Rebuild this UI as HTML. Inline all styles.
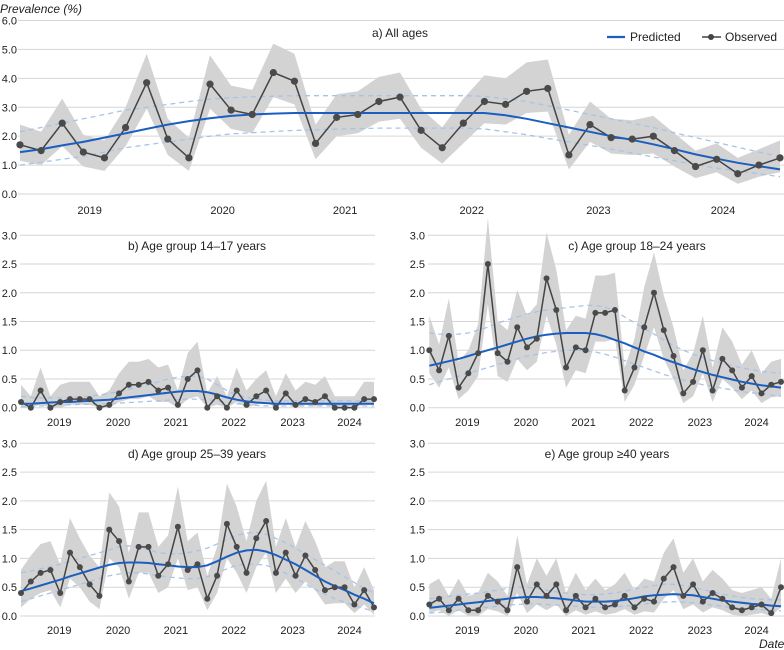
<!DOCTYPE html>
<html><head><meta charset="utf-8"><style>
html,body{margin:0;padding:0;background:#fff;}
svg{display:block;font-family:"Liberation Sans",sans-serif;}
</style></head><body>
<svg id="chart" width="784" height="650" viewBox="0 0 784 650">
<text x="0" y="13" font-size="12" font-style="italic" fill="#222">Prevalence (%)</text>
<text x="759" y="648" font-size="12" font-style="italic" fill="#222">Date</text>
<g>
<line x1="607" y1="37" x2="625" y2="37" stroke="#1a5fc0" stroke-width="2.2"/>
<text x="630" y="41" font-size="12" fill="#222">Predicted</text>
<line x1="702" y1="37" x2="721" y2="37" stroke="#444" stroke-width="1.5"/>
<circle cx="711" cy="37" r="3" fill="#444"/>
<text x="725" y="41" font-size="12" fill="#222">Observed</text>
</g>
</svg>
<script>
// Panel a: All ages
const aObs=[1.7,1.5,2.45,1.45,1.25,2.3,3.85,1.9,1.25,3.8,2.9,2.75,4.2,3.9,1.75,2.65,2.75,3.2,3.35,2.2,1.6,2.45,3.2,3.1,3.55,3.65,1.35,2.4,1.95,1.9,2.0,1.5,0.95,1.2,0.7,1.0,1.25];
const aBandHi=[2.4,2.15,3.3,2.05,1.85,3.0,4.85,2.6,1.95,4.8,3.75,3.6,5.2,4.85,2.4,3.45,3.55,4.05,4.2,2.95,2.3,3.3,4.1,4.0,4.55,4.65,2.05,3.2,2.6,2.55,2.7,2.1,1.5,1.75,1.25,1.55,1.85];
const aBandLo=[1.15,1.0,1.65,0.95,0.8,1.65,2.95,1.35,0.8,2.95,2.25,2.1,3.35,3.1,1.2,2.0,2.1,2.5,2.6,1.6,1.05,1.75,2.45,2.4,2.8,2.85,0.85,1.8,1.4,1.35,1.4,0.95,0.55,0.75,0.35,0.6,0.75];
const aPred=[1.45,1.55,1.68,1.8,1.95,2.1,2.25,2.4,2.52,2.62,2.7,2.75,2.78,2.8,2.8,2.8,2.8,2.8,2.8,2.8,2.8,2.8,2.8,2.72,2.6,2.45,2.3,2.15,2.0,1.87,1.72,1.55,1.37,1.22,1.08,0.96,0.85];
const aPredHi=[2.15,2.3,2.45,2.6,2.75,2.9,3.0,3.1,3.2,3.28,3.33,3.36,3.38,3.4,3.4,3.4,3.4,3.4,3.4,3.4,3.4,3.4,3.38,3.3,3.2,3.05,2.9,2.75,2.6,2.45,2.3,2.12,1.95,1.78,1.62,1.45,1.3];
const aPredLo=[1.0,1.1,1.2,1.3,1.45,1.6,1.7,1.8,1.9,2.0,2.08,2.12,2.16,2.2,2.22,2.24,2.26,2.28,2.28,2.28,2.28,2.28,2.25,2.15,2.05,1.92,1.8,1.68,1.55,1.42,1.28,1.15,1.02,0.9,0.8,0.7,0.6];
// Panel b: 14-17
const bObs=[0.1,0,0.3,0,0.1,0.15,0.15,0.15,0,0.05,0.25,0.4,0.4,0.45,0.3,0.35,0.05,0.5,0.65,0,0.2,0,0.3,0.05,0.2,0.3,0,0.25,0.05,0.15,0.1,0.2,0,0,0,0.15,0.15];
const bBandHi=[0.4,0.2,0.7,0.2,0.4,0.45,0.45,0.45,0.2,0.3,0.6,0.8,0.8,0.85,0.7,0.75,0.3,0.95,1.15,0.25,0.55,0.2,0.7,0.3,0.5,0.65,0.2,0.6,0.3,0.45,0.4,0.55,0.2,0.2,0.2,0.45,0.45];
const bBandLo=[0,0,0.05,0,0,0.05,0.05,0.05,0,0,0.1,0.15,0.15,0.2,0.1,0.1,0,0.15,0.2,0,0.05,0,0.1,0,0.05,0.1,0,0.1,0,0.05,0.02,0.05,0,0,0,0.05,0.05];
const bPred=[0.07,0.07,0.08,0.09,0.1,0.1,0.11,0.12,0.13,0.14,0.16,0.18,0.2,0.22,0.24,0.26,0.28,0.29,0.29,0.27,0.23,0.18,0.14,0.11,0.09,0.08,0.07,0.07,0.07,0.07,0.07,0.07,0.07,0.07,0.07,0.07,0.07];
const bPredHi=[0.2,0.18,0.17,0.17,0.17,0.18,0.19,0.2,0.22,0.25,0.28,0.32,0.36,0.4,0.45,0.5,0.53,0.55,0.55,0.5,0.4,0.3,0.22,0.18,0.15,0.13,0.12,0.12,0.12,0.12,0.12,0.12,0.12,0.12,0.12,0.12,0.12];
const bPredLo=[0.02,0.02,0.03,0.04,0.05,0.05,0.06,0.06,0.07,0.07,0.08,0.09,0.1,0.11,0.12,0.13,0.14,0.15,0.15,0.14,0.12,0.09,0.07,0.05,0.04,0.03,0.03,0.03,0.03,0.03,0.03,0.03,0.03,0.03,0.03,0.03,0.03];
// Panel c: 18-24
const cObs=[1.0,0.65,1.25,0.35,0.6,0.95,2.5,0.95,0.8,1.4,1.05,1.2,2.25,1.7,0.7,1.05,1.0,1.65,1.65,1.7,0.3,0.7,1.4,2.0,1.35,0.9,0.25,0.45,1.0,0.3,0.85,0.65,0.35,0.55,0.25,0.4,0.45];
const cBandHi=[1.6,1.1,1.9,0.8,1.0,1.45,3.3,1.5,1.35,2.05,1.6,1.8,3.05,2.4,1.35,1.6,1.55,2.3,2.3,2.35,0.7,1.2,2.1,2.7,1.95,1.4,0.65,0.95,1.6,0.7,1.4,1.15,0.75,1.0,0.6,0.8,0.85];
const cBandLo=[0.6,0.35,0.7,0.15,0.3,0.55,1.8,0.55,0.45,0.85,0.65,0.8,1.6,1.1,0.35,0.65,0.6,1.15,1.15,1.2,0.1,0.4,0.9,1.4,0.85,0.5,0.08,0.2,0.6,0.1,0.5,0.35,0.15,0.3,0.08,0.18,0.2];
const cPred=[0.73,0.77,0.81,0.85,0.9,0.95,1.0,1.05,1.1,1.15,1.2,1.24,1.27,1.29,1.3,1.3,1.3,1.28,1.24,1.18,1.12,1.05,0.98,0.92,0.85,0.79,0.73,0.67,0.62,0.57,0.53,0.49,0.45,0.42,0.39,0.37,0.35];
const cPredHi=[1.3,1.28,1.27,1.28,1.3,1.35,1.4,1.47,1.53,1.58,1.63,1.67,1.7,1.72,1.74,1.76,1.78,1.78,1.75,1.68,1.58,1.48,1.38,1.28,1.18,1.08,1.0,0.93,0.87,0.82,0.77,0.73,0.69,0.66,0.63,0.61,0.6];
const cPredLo=[0.4,0.45,0.5,0.55,0.6,0.65,0.7,0.75,0.8,0.85,0.9,0.93,0.96,0.98,1.0,1.0,0.99,0.97,0.93,0.88,0.82,0.76,0.7,0.64,0.58,0.53,0.48,0.44,0.4,0.37,0.34,0.31,0.28,0.26,0.24,0.22,0.2];
// Panel d: 25-39
const dObs=[0.4,0.6,0.75,0.8,0.4,1.1,0.85,0.55,0.35,1.5,1.3,0.6,1.2,1.2,0.7,0.9,1.55,0.8,0.9,0.3,0.7,1.6,1.2,0.75,1.35,1.65,0.75,1.1,0.7,1.05,0.8,0.45,0.5,0.5,0.2,0.45,0.15];
const dBandHi=[0.8,1.05,1.25,1.3,0.9,1.7,1.35,1.05,0.85,2.15,1.9,1.1,1.8,1.8,1.2,1.4,2.25,1.3,1.45,0.7,1.2,2.3,1.9,1.3,2.0,2.35,1.2,1.7,1.2,1.65,1.3,0.85,0.95,0.95,0.5,0.85,0.45];
const dBandLo=[0.15,0.3,0.4,0.45,0.15,0.65,0.5,0.25,0.12,1.0,0.85,0.3,0.75,0.75,0.4,0.5,1.0,0.45,0.5,0.1,0.4,1.0,0.75,0.4,0.85,1.1,0.4,0.65,0.4,0.6,0.45,0.2,0.22,0.22,0.05,0.2,0.02];
const dPred=[0.43,0.48,0.53,0.58,0.63,0.69,0.74,0.79,0.84,0.89,0.92,0.93,0.93,0.92,0.9,0.88,0.86,0.85,0.85,0.88,0.95,1.03,1.1,1.14,1.15,1.12,1.06,0.98,0.9,0.8,0.7,0.6,0.52,0.45,0.37,0.3,0.22];
const dPredHi=[0.75,0.78,0.82,0.86,0.9,0.95,1.0,1.05,1.1,1.15,1.2,1.22,1.2,1.15,1.1,1.08,1.08,1.1,1.13,1.18,1.25,1.33,1.4,1.44,1.45,1.42,1.35,1.27,1.18,1.08,0.98,0.88,0.78,0.68,0.58,0.48,0.4];
const dPredLo=[0.25,0.3,0.35,0.4,0.45,0.5,0.55,0.6,0.65,0.7,0.73,0.75,0.75,0.73,0.7,0.68,0.66,0.65,0.65,0.68,0.75,0.82,0.88,0.9,0.9,0.88,0.82,0.74,0.66,0.56,0.46,0.38,0.3,0.24,0.18,0.13,0.08];
// Panel e: >=40
const eObs=[0.2,0.3,0.1,0.3,0.1,0.1,0.35,0.25,0.1,0.85,0.25,0.55,0.35,0.55,0.1,0.35,0.15,0.3,0.15,0.2,0.35,0.15,0.3,0.25,0.65,0.85,0.35,0.55,0.25,0.4,0.3,0.15,0.1,0.15,0.2,0.05,0.5];
const eBandHi=[0.55,0.65,0.35,0.65,0.35,0.4,0.75,0.6,0.35,1.4,0.55,1.0,0.7,1.0,0.4,0.75,0.45,0.65,0.45,0.55,0.75,0.45,0.65,0.6,1.1,1.35,0.75,1.0,0.6,0.8,0.65,0.45,0.4,0.45,0.5,0.3,1.0];
const eBandLo=[0.05,0.1,0,0.1,0,0,0.12,0.08,0,0.4,0.05,0.2,0.1,0.2,0,0.1,0.02,0.08,0.02,0.05,0.12,0.02,0.08,0.06,0.3,0.45,0.12,0.2,0.06,0.15,0.1,0.02,0,0.02,0.05,0,0.15];
const ePred=[0.14,0.16,0.18,0.2,0.22,0.24,0.26,0.28,0.3,0.32,0.33,0.33,0.32,0.31,0.29,0.27,0.25,0.25,0.25,0.26,0.28,0.31,0.34,0.36,0.37,0.38,0.37,0.36,0.33,0.3,0.27,0.25,0.23,0.21,0.2,0.18,0.17];
const ePredHi=[0.3,0.32,0.34,0.36,0.38,0.4,0.42,0.45,0.48,0.5,0.5,0.48,0.45,0.42,0.4,0.38,0.37,0.37,0.38,0.4,0.43,0.47,0.5,0.53,0.55,0.55,0.53,0.5,0.46,0.42,0.38,0.35,0.32,0.3,0.29,0.28,0.28];
const ePredLo=[0.05,0.06,0.08,0.1,0.12,0.14,0.15,0.17,0.19,0.2,0.21,0.21,0.2,0.19,0.18,0.17,0.16,0.15,0.15,0.16,0.17,0.19,0.21,0.23,0.24,0.25,0.24,0.23,0.21,0.19,0.17,0.15,0.13,0.12,0.11,0.1,0.09];
// Axis labels
const yearLabels=["2019","2020","2021","2022","2023","2024"];
const yearPosA=[3.3,9.6,15.4,21.4,27.4,33.3];
const yearPosSub=[3.9,9.9,15.8,21.7,27.7,33.5];
const yTicksA=[0,1,2,3,4,5,6];
const yTicksSub=[0,0.5,1,1.5,2,2.5,3];

const NS="http://www.w3.org/2000/svg";
const svg=document.getElementById('chart');
function mk(tag,attrs,parent){const e=document.createElementNS(NS,tag);for(const k in attrs)e.setAttribute(k,attrs[k]);(parent||svg).appendChild(e);return e;}

function panel(cfg){
  const g=mk('g',{});
  
  
  const n=cfg.obs.length;
  const xs=i=>cfg.x0+(cfg.x1-cfg.x0)*i/(n-1);
  const ys=v=>cfg.yb-(v/cfg.ymax)*(cfg.yb-cfg.yt);
  cfg.yticks.forEach(t=>{
    const y=ys(t);
    const l=mk('line',{x1:cfg.gx0,x2:cfg.gx1,y1:y,y2:y,stroke:'#d6d6d6','stroke-width':1},g);
    
    
    const tx=mk('text',{x:cfg.lx,y:y+4,'font-size':11,fill:'#222','text-anchor':'end'},g);
    tx.textContent=t.toFixed(1);
    
    
  });
  cfg.years.forEach((yr,k)=>{
    const tx=mk('text',{x:xs(cfg.yearPos[k]),y:cfg.xly,'font-size':11,fill:'#222','text-anchor':'middle'},g);
    tx.textContent=yr;
    
    
  });
  let d='';
  cfg.bhi.forEach((v,i)=>{d+=(i?'L':'M')+xs(i).toFixed(1)+','+ys(v).toFixed(1);});
  for(let i=n-1;i>=0;i--)d+='L'+xs(i).toFixed(1)+','+ys(cfg.blo[i]).toFixed(1);
  const band=mk('path',{d:d+'Z',fill:'#d3d3d3'},g);
  
  
  const lp=arr=>arr.map((v,i)=>(i?'L':'M')+xs(i).toFixed(1)+','+ys(v).toFixed(1)).join('');
  [cfg.phi,cfg.plo].forEach(arr=>{
    const p=mk('path',{d:lp(arr),fill:'none',stroke:'#a9c3e8','stroke-width':1.3,'stroke-dasharray':'5,4'},g);
    
    
  });
  const ob=mk('path',{d:lp(cfg.obs),fill:'none',stroke:'#444','stroke-width':1.5},g);
  
  
  const pr=mk('path',{d:lp(cfg.pred),fill:'none',stroke:'#1a5fc0','stroke-width':2},g);
  
  
  cfg.obs.forEach((v,i)=>{
    const c=mk('circle',{cx:xs(i),cy:ys(v),r:cfg.r,fill:'#4a4a4a'},g);
    
    
  });
  const t=mk('text',{x:cfg.tx,y:cfg.ty,'font-size':12,fill:'#222','text-anchor':'middle'},g);
  t.textContent=cfg.title;
  
  
}
panel({name:'panel-a-all-ages',obs:aObs,bhi:aBandHi,blo:aBandLo,pred:aPred,phi:aPredHi,plo:aPredLo,x0:20,x1:780,yt:20.5,yb:194,ymax:6,gx0:18,gx1:784,lx:17,yticks:yTicksA,years:yearLabels,yearPos:yearPosA,xly:214,r:3.6,title:'a) All ages',tx:400,ty:37});
panel({name:'panel-b-14-17',obs:bObs,bhi:bBandHi,blo:bBandLo,pred:bPred,phi:bPredHi,plo:bPredLo,x0:21,x1:374,yt:235.3,yb:407.7,ymax:3,gx0:20,gx1:375,lx:17,yticks:yTicksSub,years:yearLabels,yearPos:yearPosSub,xly:426,r:3,title:'b) Age group 14\u201317 years',tx:197,ty:250});
panel({name:'panel-c-18-24',obs:cObs,bhi:cBandHi,blo:cBandLo,pred:cPred,phi:cPredHi,plo:cPredLo,x0:429.3,x1:781,yt:235.3,yb:407.7,ymax:3,gx0:428,gx1:784,lx:425,yticks:yTicksSub,years:yearLabels,yearPos:yearPosSub,xly:426,r:3,title:'c) Age group 18\u201324 years',tx:637,ty:250});
panel({name:'panel-d-25-39',obs:dObs,bhi:dBandHi,blo:dBandLo,pred:dPred,phi:dPredHi,plo:dPredLo,x0:21,x1:374,yt:443.3,yb:616,ymax:3,gx0:20,gx1:375,lx:17,yticks:yTicksSub,years:yearLabels,yearPos:yearPosSub,xly:634,r:3,title:'d) Age group 25\u201339 years',tx:197,ty:458});
panel({name:'panel-e-40-plus',obs:eObs,bhi:eBandHi,blo:eBandLo,pred:ePred,phi:ePredHi,plo:ePredLo,x0:429.3,x1:781,yt:443.3,yb:616,ymax:3,gx0:428,gx1:784,lx:425,yticks:yTicksSub,years:yearLabels,yearPos:yearPosSub,xly:634,r:3,title:'e) Age group \u226540 years',tx:607,ty:458});
</script>
</body></html>
